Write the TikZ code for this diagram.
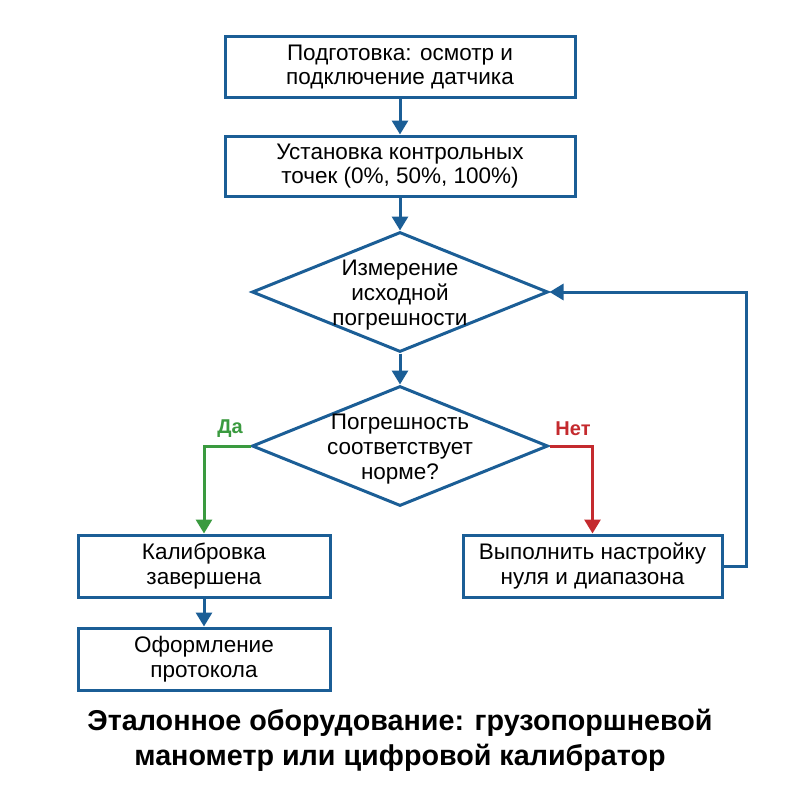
\documentclass[tikz,border=0pt]{standalone}
\usepackage{fontspec}
\setmainfont{Liberation Sans}
\usetikzlibrary{shapes.geometric,arrows.meta}
\definecolor{fblue}{HTML}{1B5E96}
\definecolor{fgreen}{HTML}{3A9A3F}
\definecolor{fred}{HTML}{C42A2E}
\begin{document}
\begin{tikzpicture}[x=1pt,y=-1pt,
  every node/.style={font=\fontsize{22.5}{24.5}\selectfont, align=center, text=black},
  procbox/.style={draw=fblue, line width=3pt, rectangle, inner sep=0pt},
  decision/.style={draw=fblue, line width=3pt, diamond, inner sep=0pt, minimum width=296pt, minimum height=120pt, aspect=2.47},
  dtext/.style={font=\fontsize{22.5}{25}\selectfont},
  flow/.style={draw=fblue, line width=3pt, -{Triangle[length=14pt,width=16pt]}},
  yesflow/.style={flow, draw=fgreen},
  noflow/.style={flow, draw=fred},
  lbl/.style={font=\fontsize{20}{22}\selectfont\bfseries}
]
\useasboundingbox (0,0) rectangle (800,800);
\node[procbox, minimum width=350pt, minimum height=60pt] (b1) at (400,67) {Подготовка: осмотр и\\подключение датчика};
\node[procbox, minimum width=350pt, minimum height=60pt] (b2) at (400,166) {Установка контрольных\\точек (0\%, 50\%, 100\%)};
\node[decision] (d1) at (400,292) {};
\node[dtext] (d1t) at (400,295) {Измерение\\исходной\\погрешности};
\node[decision] (d2) at (400,446) {};
\node[dtext] (d2t) at (400,449) {Погрешность\\соответствует\\норме?};
\node[procbox, minimum width=252pt, minimum height=62pt] (b3) at (204,566) {Калибровка\\завершена};
\node[procbox, minimum width=252pt, minimum height=62pt] (b4) at (204,659) {Оформление\\протокола};
\node[procbox, minimum width=259pt, minimum height=62pt] (b5) at (592.5,566) {Выполнить настройку\\нуля и диапазона};
\node[lbl, text=fgreen] (yes) at (230,429) {Да};
\node[lbl, text=fred] (no) at (573,429) {Нет};
\node[font=\fontsize{28.7}{35}\selectfont\bfseries] (title) at (400,740) {Эталонное оборудование: грузопоршневой\\манометр или цифровой калибратор};
\draw[flow] (b1) -- (b2);
\draw[flow] (b2) -- (d1);
\draw[flow] (d1) -- (d2);
\draw[flow] (b3) -- (b4);
\draw[yesflow] (d2.west) -| (b3.north);
\draw[noflow] (d2.east) -| (b5.north);
\draw[flow] (b5.east) -- ++(23,0) |- (d1.east);
\end{tikzpicture}
\end{document}
